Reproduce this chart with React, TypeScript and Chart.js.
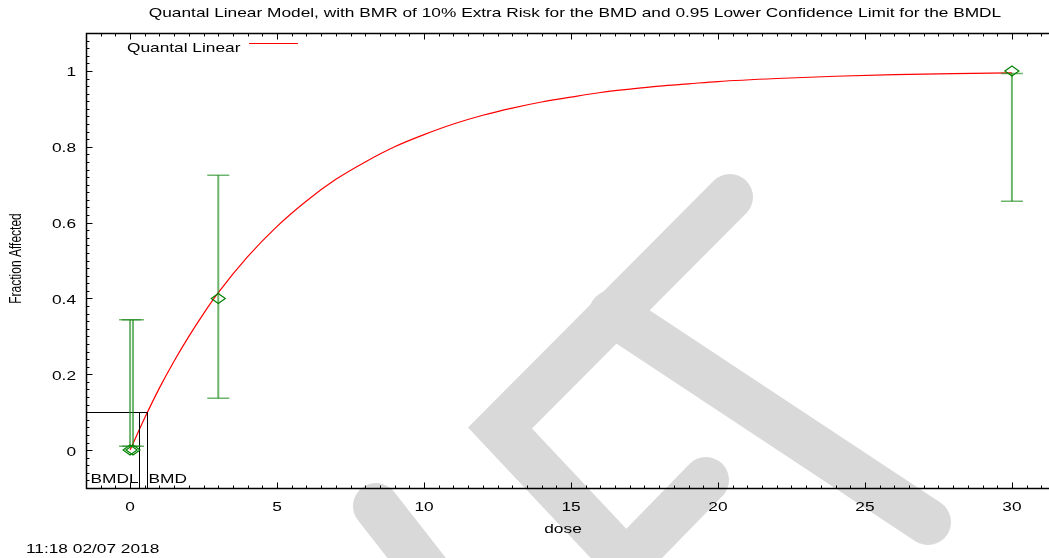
import React, { useEffect, useRef } from "react";
import { Chart, registerables } from "chart.js";

Chart.register(...registerables);

const titleText =
  "Quantal Linear Model, with BMR of 10% Extra Risk for the BMD and 0.95 Lower Confidence Limit for the BMDL";
const xAxisTitle = "dose";
const yAxisTitle = "Fraction Affected";
const legendLabel = "Quantal Linear";
const timestamp = "11:18 02/07 2018";

// fitted model curve
const curveDose = [0, 0.5, 1, 1.5, 2, 2.5, 3, 4, 5, 6, 7, 8, 9, 10, 11, 12, 13, 14, 15, 16, 17, 18, 19, 20, 22, 24, 26, 28, 30];
const curveFraction = [0, 0.085, 0.164, 0.235, 0.3, 0.36, 0.415, 0.51, 0.59, 0.657, 0.714, 0.76, 0.8, 0.832, 0.86, 0.883, 0.902, 0.918, 0.931, 0.943, 0.952, 0.96, 0.966, 0.972, 0.98, 0.986, 0.99, 0.993, 0.995];

// observed groups with confidence limits
const obsDose = [0, 0.1, 3, 30];
const obsFraction = [0, 0, 0.4, 1];
const obsLower = [0.01, 0.01, 0.137, 0.656];
const obsUpper = [0.344, 0.344, 0.725, 0.993];

const bmr = 0.1;
const bmd = 0.59;
const bmdl = 0.3;

const xMin = -1.5;
const xMax = 31.5;
const yMin = -0.1;
const yMax = 1.1;
const xTickValues = [0, 5, 10, 15, 20, 25, 30];
const xTickLabels = ["0", "5", "10", "15", "20", "25", "30"];
const yTickValues = [0, 0.2, 0.4, 0.6, 0.8, 1];
const yTickLabels = ["0", "0.2", "0.4", "0.6", "0.8", "1"];
const xMinorStep = 0.5;
const yMinorStep = 0.02;

const CANVAS_W = 1070;
const CANVAS_H = 558;
const SX = 1.33;
const FONT = '13px "Liberation Sans", Arial, sans-serif';
const YTITLE_FONT = '12px "Liberation Sans", Arial, sans-serif';

function sText(ctx: CanvasRenderingContext2D, text: string, x: number, y: number, align: CanvasTextAlign) {
  ctx.save();
  ctx.translate(x, y);
  ctx.scale(SX, 1);
  ctx.font = FONT;
  ctx.fillStyle = "#000";
  ctx.textAlign = align;
  ctx.textBaseline = "middle";
  ctx.fillText(text, 0, 0);
  ctx.restore();
}

const watermarkPlugin = {
  id: "watermark",
  beforeDraw(chart: any) {
    const ctx = chart.ctx as CanvasRenderingContext2D;
    ctx.save();
    ctx.strokeStyle = "#d9d9d9";
    ctx.lineCap = "round";
    ctx.lineJoin = "miter";
    ctx.lineWidth = 46;
    ctx.beginPath();
    ctx.moveTo(730, 197);
    ctx.lineTo(500, 428);
    ctx.lineTo(626, 562);
    ctx.lineTo(706, 480);
    ctx.stroke();
    ctx.beginPath();
    ctx.moveTo(612, 313);
    ctx.lineTo(928, 522);
    ctx.stroke();
    ctx.beginPath();
    ctx.moveTo(376, 506);
    ctx.lineTo(430, 575);
    ctx.stroke();
    ctx.restore();
  },
};

const overlayPlugin = {
  id: "overlay",
  afterDatasetsDraw(chart: any) {
    const ctx = chart.ctx as CanvasRenderingContext2D;
    const xs = chart.scales.x;
    const ys = chart.scales.y;
    const area = chart.chartArea;
    ctx.save();
    ctx.strokeStyle = "#000";
    ctx.lineWidth = 1;
    const yb = Math.round(ys.getPixelForValue(bmr)) + 0.5;
    const xbmd = Math.round(xs.getPixelForValue(bmd)) + 0.5;
    const xbmdl = Math.round(xs.getPixelForValue(bmdl)) + 0.5;
    ctx.beginPath();
    ctx.moveTo(area.left, yb);
    ctx.lineTo(xbmd, yb);
    ctx.moveTo(xbmd, yb);
    ctx.lineTo(xbmd, area.bottom);
    ctx.moveTo(xbmdl, yb);
    ctx.lineTo(xbmdl, area.bottom);
    ctx.stroke();
    sText(ctx, "BMDL", xbmdl - 1, area.bottom - 9, "right");
    sText(ctx, "BMD", xbmd + 1, area.bottom - 9, "left");
    ctx.restore();

    ctx.save();
    for (let i = 0; i < obsDose.length; i++) {
      const px = xs.getPixelForValue(obsDose[i]);
      const pl = ys.getPixelForValue(obsLower[i]);
      const pu = ys.getPixelForValue(obsUpper[i]);
      const pc = ys.getPixelForValue(obsFraction[i]);
      ctx.strokeStyle = "rgba(30,140,30,0.65)";
      ctx.lineWidth = 2;
      ctx.beginPath();
      ctx.moveTo(px, pl);
      ctx.lineTo(px, pu);
      ctx.stroke();
      ctx.lineWidth = 1.5;
      ctx.beginPath();
      ctx.moveTo(px - 11, pl);
      ctx.lineTo(px + 11, pl);
      ctx.moveTo(px - 11, pu);
      ctx.lineTo(px + 11, pu);
      ctx.stroke();
      ctx.strokeStyle = "rgb(0,130,0)";
      ctx.lineWidth = 1.2;
      ctx.beginPath();
      ctx.moveTo(px - 7, pc);
      ctx.lineTo(px, pc - 5);
      ctx.lineTo(px + 7, pc);
      ctx.lineTo(px, pc + 5);
      ctx.closePath();
      ctx.stroke();
    }
    ctx.restore();
  },
  afterDraw(chart: any) {
    const ctx = chart.ctx as CanvasRenderingContext2D;
    const xs = chart.scales.x;
    const ys = chart.scales.y;
    const a = chart.chartArea;
    ctx.save();
    ctx.strokeStyle = "#000";
    const L = Math.round(a.left) + 0.5;
    const R = Math.round(a.right) + 0.5;
    const T = Math.round(a.top) + 0.5;
    const B = Math.round(a.bottom) + 0.5;
    ctx.lineWidth = 1.5;
    ctx.strokeRect(L, T, R - L, B - T);
    ctx.lineWidth = 1;
    ctx.beginPath();
    const nx = Math.round((xMax - xMin) / xMinorStep);
    for (let k = 0; k <= nx; k++) {
      const v = xMin + k * xMinorStep;
      const major = xTickValues.some((t) => Math.abs(t - v) < 1e-6);
      const len = major ? 6 : 3;
      const px = Math.round(xs.getPixelForValue(v)) + 0.5;
      ctx.moveTo(px, B);
      ctx.lineTo(px, B - len);
      ctx.moveTo(px, T);
      ctx.lineTo(px, T + len);
    }
    const ny = Math.round((yMax - yMin) / yMinorStep);
    for (let k = 0; k <= ny; k++) {
      const v = yMin + k * yMinorStep;
      const major = yTickValues.some((t) => Math.abs(t - v) < 1e-6);
      const len = major ? 6 : 3;
      const py = Math.round(ys.getPixelForValue(v)) + 0.5;
      ctx.moveTo(L, py);
      ctx.lineTo(L + len, py);
      ctx.moveTo(R, py);
      ctx.lineTo(R - len, py);
    }
    ctx.stroke();
    ctx.restore();

    xTickValues.forEach((v, i) => {
      sText(ctx, xTickLabels[i], xs.getPixelForValue(v), 507, "center");
    });
    yTickValues.forEach((v, i) => {
      sText(ctx, yTickLabels[i], 76, ys.getPixelForValue(v) + 2, "right");
    });

    sText(ctx, titleText, 575, 13, "center");
    sText(ctx, xAxisTitle, 563, 529, "center");
    sText(ctx, timestamp, 26, 549, "left");
    sText(ctx, legendLabel, 127, 48, "left");
    ctx.save();
    ctx.strokeStyle = "red";
    ctx.lineWidth = 1;
    ctx.beginPath();
    ctx.moveTo(249, 43.5);
    ctx.lineTo(298, 43.5);
    ctx.stroke();
    ctx.restore();

    ctx.save();
    ctx.translate(17, (a.top + a.bottom) / 2 - 2);
    ctx.scale(SX, 1);
    ctx.rotate(-Math.PI / 2);
    ctx.font = YTITLE_FONT;
    ctx.fillStyle = "#000";
    ctx.textAlign = "center";
    ctx.textBaseline = "middle";
    ctx.fillText(yAxisTitle, 0, 0);
    ctx.restore();
  },
};

export default function App() {
  const ref = useRef<HTMLCanvasElement | null>(null);
  useEffect(() => {
    if (!ref.current) return;
    const chart = new Chart(ref.current, {
      type: "scatter",
      data: {
        datasets: [
          {
            label: legendLabel,
            data: curveDose.map((d, i) => ({ x: d, y: curveFraction[i] })),
            showLine: true,
            borderColor: "red",
            borderWidth: 1.2,
            pointRadius: 0,
            cubicInterpolationMode: "monotone",
            fill: false,
          } as any,
        ],
      },
      options: {
        responsive: false,
        animation: false,
        events: [],
        layout: { padding: { left: 86, top: 33, right: CANVAS_W - 1056, bottom: CANVAS_H - 488 } },
        scales: {
          x: { type: "linear", min: xMin, max: xMax, display: false },
          y: { type: "linear", min: yMin, max: yMax, display: false },
        },
        plugins: { legend: { display: false }, tooltip: { enabled: false }, title: { display: false } },
      },
      plugins: [watermarkPlugin, overlayPlugin],
    });
    return () => chart.destroy();
  }, []);
  return (
    <div style={{ position: "fixed", left: 0, top: 0, width: 1049, height: 558, overflow: "hidden", background: "#fff" }}>
      <canvas ref={ref} width={CANVAS_W} height={CANVAS_H} style={{ display: "block" }} />
    </div>
  );
}
